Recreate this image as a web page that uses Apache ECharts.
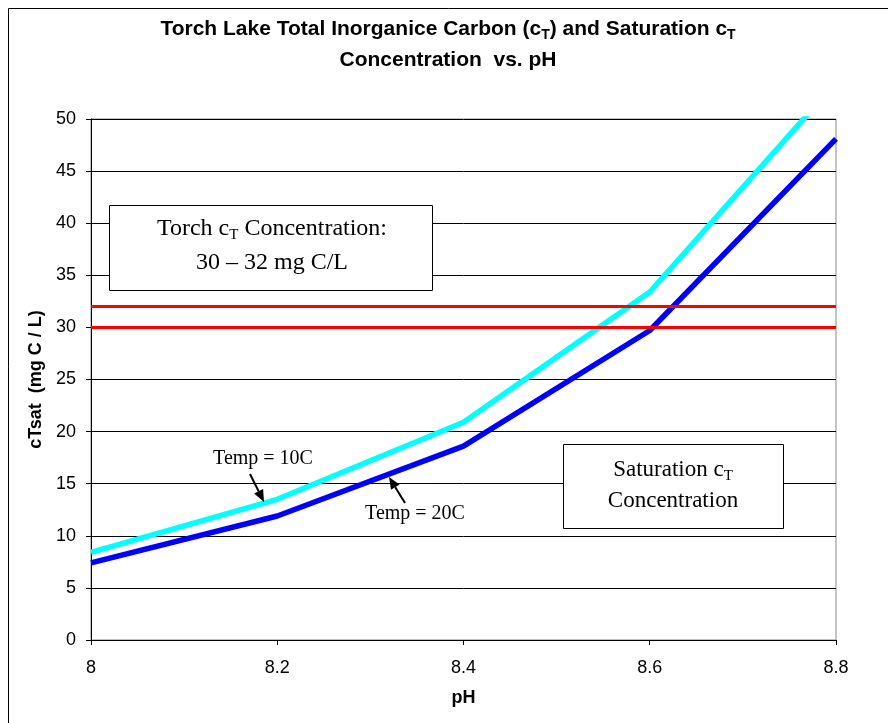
<!DOCTYPE html>
<html>
<head>
<meta charset="utf-8">
<script src="https://cdn.jsdelivr.net/npm/echarts@6/dist/echarts.min.js"></script>
<style>
html,body{margin:0;padding:0;background:#fff;}
#chart{width:888px;height:723px;}
</style>
</head>
<body>
<div id="chart"></div>
<script>
// ---- data ----
var pH = [8.0, 8.2, 8.4, 8.6, 8.8];
var cTsat10C = [8.4, 13.5, 20.9, 33.4, 53.5];
var cTsat20C = [7.4, 11.9, 18.6, 29.7, 48.1];
var torchRange = [30, 32];
var xTicks = [8, 8.2, 8.4, 8.6, 8.8];
var yTicks = [0, 5, 10, 15, 20, 25, 30, 35, 40, 45, 50];

function pairs(xs, ys) { return xs.map(function (x, i) { return [x, ys[i]]; }); }
function hline(v) { return [[pH[0], v], [pH[pH.length - 1], v]]; }

var chart = echarts.init(document.getElementById('chart'));

function arrow(x1, y1, x2, y2) {
  var ang = Math.atan2(y2 - y1, x2 - x1);
  var L = 12, W = 5;
  var bx = x2 - L * Math.cos(ang), by = y2 - L * Math.sin(ang);
  var px = -Math.sin(ang) * W, py = Math.cos(ang) * W;
  return [
    { type: 'line', shape: { x1: x1, y1: y1, x2: bx, y2: by }, style: { stroke: '#000', lineWidth: 2 } },
    { type: 'polygon', shape: { points: [[x2, y2], [bx + px, by + py], [bx - px, by - py]] }, style: { fill: '#000' } }
  ];
}

var serif = '"Liberation Serif","Times New Roman",serif';
var sans = '"Liberation Sans",Arial,sans-serif';

var graphics = [
  { type: 'rect', shape: { x: 8.5, y: 8.5, width: 900, height: 800 }, style: { fill: 'none', stroke: '#000', lineWidth: 1 }, silent: true },
  { type: 'rect', z: 10, shape: { x: 109.5, y: 205.5, width: 323, height: 85 }, style: { fill: '#fff', stroke: '#000', lineWidth: 1 } },
  { type: 'text', z: 11, style: { x: 272, y: 229, text: 'Torch c{s|T} Concentration:', textAlign: 'center', textVerticalAlign: 'middle',
      font: '24px ' + serif, fill: '#000', rich: { s: { fontSize: 15, fontFamily: serif, padding: [12, 0, 0, 0] } } } },
  { type: 'text', z: 11, style: { x: 272, y: 263, text: '30 \u2013 32 mg C/L', textAlign: 'center', textVerticalAlign: 'middle',
      font: '24px ' + serif, fill: '#000' } },
  { type: 'rect', z: 10, shape: { x: 563.5, y: 444.5, width: 220, height: 84 }, style: { fill: '#fff', stroke: '#000', lineWidth: 1 } },
  { type: 'text', z: 11, style: { x: 673, y: 470, text: 'Saturation c{s|T}', textAlign: 'center', textVerticalAlign: 'middle',
      font: '23px ' + serif, fill: '#000', rich: { s: { fontSize: 15, fontFamily: serif, padding: [12, 0, 0, 0] } } } },
  { type: 'text', z: 11, style: { x: 673, y: 501, text: 'Concentration', textAlign: 'center', textVerticalAlign: 'middle',
      font: '23px ' + serif, fill: '#000' } },
  { type: 'text', z: 11, style: { x: 263, y: 459, text: 'Temp = 10C', textAlign: 'center', textVerticalAlign: 'middle',
      font: '20px ' + serif, fill: '#000' } },
  { type: 'text', z: 11, style: { x: 415, y: 514, text: 'Temp = 20C', textAlign: 'center', textVerticalAlign: 'middle',
      font: '20px ' + serif, fill: '#000' } }
].concat(arrow(250, 474, 264, 502)).concat(arrow(405, 503, 389, 477)).map(function (g) { if (g.z === undefined) g.z = 11; return g; });
graphics[0].z = 0;

chart.setOption({
  animation: false,
  backgroundColor: '#fff',
  title: {
    text: 'Torch Lake Total Inorganice Carbon (c{s|T}) and Saturation c{s|T}\nConcentration  vs. pH',
    left: 443, top: 9, textAlign: 'center',
    textStyle: {
      fontFamily: sans, fontSize: 21, fontWeight: 'bold', color: '#000', lineHeight: 31,
      rich: { s: { fontFamily: sans, fontSize: 14, fontWeight: 'bold', padding: [11, 0, 0, 0] } }
    }
  },
  grid: { left: 91, right: 52, top: 119, bottom: 83, show: true, borderColor: '#888', borderWidth: 1, containLabel: false },
  xAxis: {
    type: 'value', min: xTicks[0], max: xTicks[xTicks.length - 1], interval: 0.2,
    name: 'pH', nameLocation: 'middle', nameGap: 49,
    nameTextStyle: { fontFamily: sans, fontSize: 18, fontWeight: 'bold', color: '#000' },
    axisLine: { show: true, lineStyle: { color: '#000', width: 1 } },
    axisTick: { show: true, length: 5, lineStyle: { color: '#000' } },
    axisLabel: { fontFamily: sans, fontSize: 18, color: '#000', margin: 19,
      formatter: function (v) { return String(+v.toFixed(1)); } },
    splitLine: { show: false }
  },
  yAxis: {
    type: 'value', min: yTicks[0], max: yTicks[yTicks.length - 1], interval: 5,
    name: 'cTsat  (mg C / L)', nameLocation: 'middle', nameGap: 46, nameRotate: 90,
    nameTextStyle: { fontFamily: sans, fontSize: 18, fontWeight: 'bold', color: '#000' },
    axisLine: { show: true, lineStyle: { color: '#000', width: 1 } },
    axisTick: { show: true, length: 5, lineStyle: { color: '#000' } },
    axisLabel: { fontFamily: sans, fontSize: 18, color: '#000', margin: 15 },
    splitLine: { show: true, lineStyle: { color: '#000', width: 1 } }
  },
  series: [
    { name: 'Temp = 20C', type: 'line', data: pairs(pH, cTsat20C), symbol: 'none', clip: true,
      lineStyle: { color: '#0000ff', width: 5.5 }, z: 3 },
    { name: 'Temp = 10C', type: 'line', data: pairs(pH, cTsat10C), symbol: 'none', clip: true,
      lineStyle: { color: '#00ffff', width: 5.5 }, z: 3 },
    { name: 'Torch low', type: 'line', data: hline(torchRange[0]), symbol: 'none',
      lineStyle: { color: '#ff0000', width: 3 }, z: 4 },
    { name: 'Torch high', type: 'line', data: hline(torchRange[1]), symbol: 'none',
      lineStyle: { color: '#ff0000', width: 3 }, z: 4 }
  ],
  graphic: graphics
});
</script>
</body>
</html>
